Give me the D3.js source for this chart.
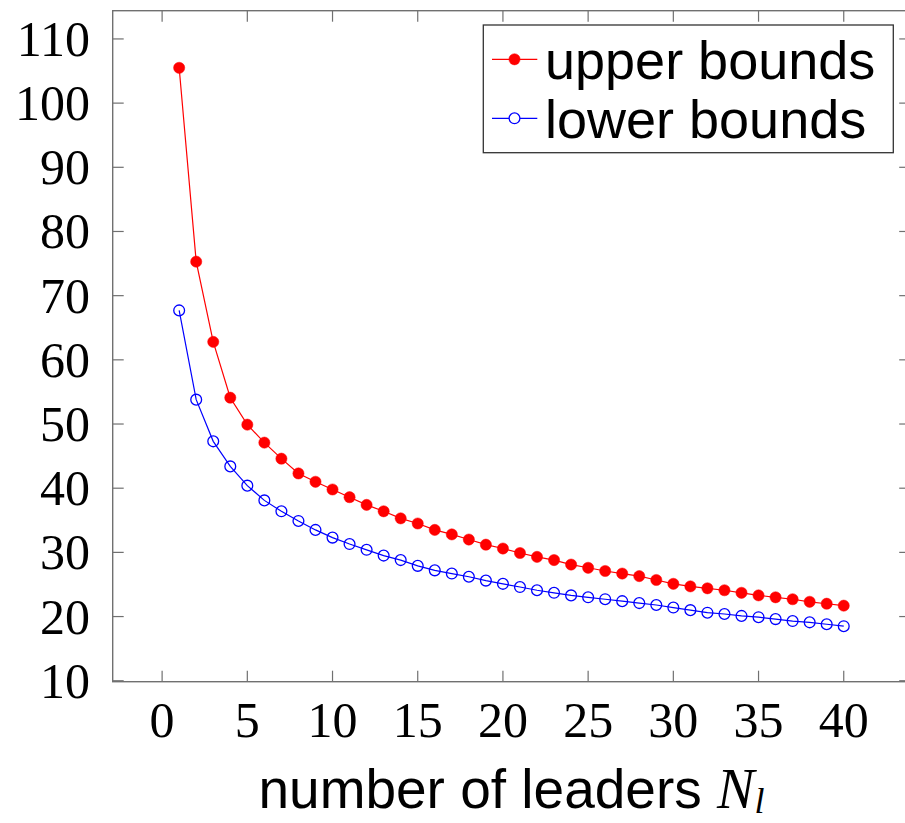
<!DOCTYPE html>
<html>
<head>
<meta charset="utf-8">
<script src="https://cdn.jsdelivr.net/npm/d3@7"></script>
<style>
  body { margin: 0; background: #fff; }
  .tick-lbl { font-family: "Liberation Serif", serif; font-size: 50px; fill: #000; }
  .leg-lbl { font-family: "Liberation Sans", Arial, sans-serif; font-size: 54px; fill: #000; }
</style>
</head>
<body>
<svg id="chart" width="905" height="823"></svg>
<script>
// number of leaders N_l
var leaders = d3.range(1, 41);
var upperBounds = [105.5, 75.3, 62.8, 54.1, 49.9, 47.1, 44.6, 42.3, 41.0, 39.8,
                   38.6, 37.4, 36.4, 35.3, 34.5, 33.5, 32.8, 32.0, 31.2, 30.6,
                   29.9, 29.3, 28.8, 28.1, 27.6, 27.1, 26.7, 26.3, 25.7, 25.1,
                   24.7, 24.4, 24.1, 23.7, 23.3, 23.0, 22.7, 22.3, 22.0, 21.7];
var lowerBounds = [67.7, 53.8, 47.3, 43.4, 40.4, 38.1, 36.4, 34.9, 33.5, 32.3,
                   31.3, 30.4, 29.5, 28.8, 27.9, 27.2, 26.7, 26.2, 25.6, 25.1,
                   24.6, 24.1, 23.7, 23.3, 23.0, 22.7, 22.4, 22.1, 21.8, 21.4,
                   21.0, 20.6, 20.4, 20.1, 19.9, 19.6, 19.3, 19.1, 18.8, 18.5];
var xTicks = [0, 5, 10, 15, 20, 25, 30, 35, 40];
var yTicks = [10, 20, 30, 40, 50, 60, 70, 80, 90, 100, 110];
var seriesNames = ["upper bounds", "lower bounds"];

var svg = d3.select("#chart");
var plot = {left: 112.7, right: 910.2, top: 10.7, bottom: 681.7};

var x = d3.scaleLinear().domain([-2.9, 43.9]).range([plot.left, plot.right]);
var y = d3.scaleLinear().domain([9.85, 114.4]).range([plot.bottom, plot.top]);

var tickLen = 11, axisColor = "#707070";

// ticks, inward on all sides
var g = svg.append("g").attr("class", "ticks").attr("stroke", axisColor).attr("stroke-width", 1.2);
xTicks.forEach(function(t) {
  g.append("line").attr("x1", x(t)).attr("x2", x(t)).attr("y1", plot.bottom).attr("y2", plot.bottom - tickLen);
  g.append("line").attr("x1", x(t)).attr("x2", x(t)).attr("y1", plot.top).attr("y2", plot.top + tickLen);
});
yTicks.forEach(function(t) {
  g.append("line").attr("y1", y(t)).attr("y2", y(t)).attr("x1", plot.left).attr("x2", plot.left + tickLen);
  g.append("line").attr("y1", y(t)).attr("y2", y(t)).attr("x1", plot.right).attr("x2", plot.right - tickLen);
});

// frame
svg.append("rect")
    .attr("x", plot.left).attr("y", plot.top)
    .attr("width", plot.right - plot.left).attr("height", plot.bottom - plot.top)
    .attr("fill", "none").attr("stroke", axisColor).attr("stroke-width", 1.4);

// tick labels
svg.append("g").selectAll("text").data(xTicks).enter().append("text")
    .attr("class", "tick-lbl")
    .attr("x", function(d) { return x(d); })
    .attr("y", 737)
    .attr("text-anchor", "middle")
    .text(function(d) { return d; });

svg.append("g").selectAll("text").data(yTicks).enter().append("text")
    .attr("class", "tick-lbl")
    .attr("x", 90)
    .attr("y", function(d) { return y(d); })
    .attr("dy", "0.34em")
    .attr("text-anchor", "end")
    .text(function(d) { return d; });

// x axis label
var xl = svg.append("text")
    .attr("x", (plot.left + plot.right) / 2)
    .attr("y", 808)
    .attr("text-anchor", "middle");
xl.append("tspan").attr("class", "leg-lbl").style("font-size", "55px").text("number of leaders ");
xl.append("tspan").style("font-family", "'Liberation Serif', serif").style("font-style", "italic")
    .style("font-size", "56px").text("N");
xl.append("tspan").style("font-family", "'Liberation Serif', serif").style("font-style", "italic")
    .style("font-size", "36px").attr("dy", 5).text("l");

// series
var line = d3.line()
    .x(function(d, i) { return x(leaders[i]); })
    .y(function(d) { return y(d); });

var series = [
  { values: upperBounds, color: "#ff0000", filled: true },
  { values: lowerBounds, color: "#0000ff", filled: false }
];

series.forEach(function(s) {
  svg.append("path")
      .datum(s.values)
      .attr("d", line)
      .attr("fill", "none")
      .attr("stroke", s.color)
      .attr("stroke-width", 1.2);
  svg.append("g").selectAll("circle").data(s.values).enter().append("circle")
      .attr("cx", function(d, i) { return x(leaders[i]); })
      .attr("cy", function(d) { return y(d); })
      .attr("r", s.filled ? 5.6 : 5.4)
      .attr("fill", s.filled ? s.color : "none")
      .attr("stroke", s.color)
      .attr("stroke-width", s.filled ? 0.5 : 1.3);
});

// legend
var leg = svg.append("g").attr("class", "legend");
leg.append("rect")
    .attr("x", 483.3).attr("y", 25)
    .attr("width", 410).attr("height", 127.7)
    .attr("fill", "#fff").attr("stroke", "#333").attr("stroke-width", 1.3);
[59.3, 118.3].forEach(function(ly, i) {
  var s = series[i];
  leg.append("line").attr("x1", 492).attr("x2", 537.3).attr("y1", ly).attr("y2", ly)
      .attr("stroke", s.color).attr("stroke-width", 1.2);
  leg.append("circle").attr("cx", 514.5).attr("cy", ly).attr("r", s.filled ? 5.6 : 5.4)
      .attr("fill", s.filled ? s.color : "#fff").attr("stroke", s.color)
      .attr("stroke-width", s.filled ? 0.5 : 1.3);
  leg.append("text").attr("class", "leg-lbl")
      .attr("x", 545).attr("y", ly).attr("dy", "0.36em")
      .text(seriesNames[i]);
});
</script>
</body>
</html>
